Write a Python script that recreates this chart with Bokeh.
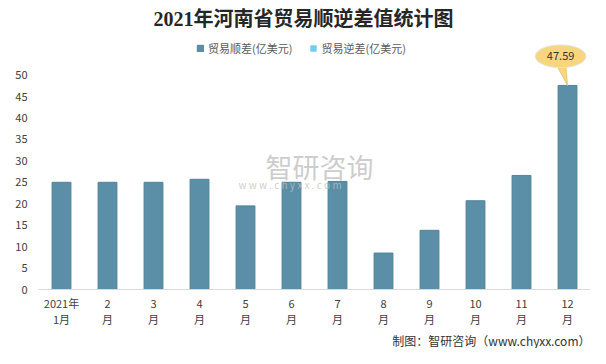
from bokeh.plotting import figure
from bokeh.models import (Range1d, FixedTicker, Label, Legend, LegendItem,
                          ColumnDataSource, Title)
from bokeh.embed import file_html
from bokeh.resources import INLINE

# ---- data ----
months = [1, 2, 3, 4, 5, 6, 7, 8, 9, 10, 11, 12]
month_labels = ["2021年\n1月", "2\n月", "3\n月", "4\n月", "5\n月", "6\n月",
                "7\n月", "8\n月", "9\n月", "10\n月", "11\n月", "12\n月"]
surplus = [25.0, 25.0, 25.0, 25.7, 19.5, 25.0, 25.2, 8.5, 13.8, 20.7, 26.6, 47.59]
deficit = [0, 0, 0, 0, 0, 0, 0, 0, 0, 0, 0, 0]  # no deficit in any month
y_ticks = [0, 5, 10, 15, 20, 25, 30, 35, 40, 45, 50]

title_text = "2021年河南省贸易顺逆差值统计图"
series_names = ["贸易顺差(亿美元)", "贸易逆差(亿美元)"]
source_text = "制图：智研咨询（www.chyxx.com）"

CJK = "Noto Sans CJK SC"
bar_color = "#5B8FA7"
deficit_color = "#6FCDF3"

p = figure(width=590, height=348, output_backend="svg", toolbar_location=None,
           title=None,
           x_range=Range1d(0.5, 12.5), y_range=Range1d(0, 67.4),
           min_border_left=38, min_border_right=0,
           min_border_top=0, min_border_bottom=0)
p.background_fill_color = "white"
p.border_fill_color = "white"
p.outline_line_color = None
p.grid.grid_line_color = None

src = ColumnDataSource(dict(x=months, top=surplus))
r1 = p.vbar(x="x", top="top", width=0.41, source=src, fill_color=bar_color,
            line_color="#50839A", line_width=1)
src2 = ColumnDataSource(dict(x=months, top=deficit))
r2 = p.vbar(x="x", top="top", width=0.41, source=src2, fill_color=deficit_color,
            line_color=None)

# axes
p.yaxis.ticker = FixedTicker(ticks=y_ticks)
p.yaxis.axis_line_color = None
p.yaxis.major_tick_line_color = None
p.yaxis.minor_tick_line_color = None
p.yaxis.major_tick_out = 0
p.yaxis.major_label_standoff = 11
p.yaxis.major_label_text_font = CJK
p.yaxis.major_label_text_font_size = "11px"
p.yaxis.major_label_text_color = "#404040"

p.xaxis.ticker = FixedTicker(ticks=months)
p.xaxis.major_label_overrides = {m: lab for m, lab in zip(months, month_labels)}
p.xaxis.axis_line_color = "#D9D9D9"
p.xaxis.major_tick_line_color = None
p.xaxis.minor_tick_line_color = None
p.xaxis.major_tick_out = 0
p.xaxis.major_label_standoff = 5
p.xaxis.major_label_text_font = CJK
p.xaxis.major_label_text_font_size = "11px"
p.xaxis.major_label_text_color = "#404040"
p.xaxis.major_label_text_line_height = 1.0

# source note (below the axis)
p.add_layout(Title(text=source_text, align="right", standoff=0, offset=0,
                   text_font_size="12px", text_font=CJK,
                   text_font_style="normal", text_color="#333333"), "below")

# title
p.add_layout(Label(x=6.26, y=63.0, text=title_text, text_align="center",
                   text_baseline="middle", text_font_size="20px",
                   text_font_style="bold", text_color="#262626",
                   text_font="Liberation Serif, Noto Sans CJK SC"))

# legend
legend = Legend(items=[LegendItem(label=series_names[0], renderers=[r1]),
                       LegendItem(label=series_names[1], renderers=[r2])],
                orientation="horizontal", location=(158, 233),
                glyph_width=8, glyph_height=8, label_standoff=4, spacing=17,
                padding=0, margin=0, label_height=16,
                label_text_font=CJK, label_text_font_size="11px",
                label_text_color="#595959",
                background_fill_alpha=0, border_line_color=None)
p.add_layout(legend, "center")

# watermark
p.add_layout(Label(x=6.61, y=28.6, text="智研咨询", text_align="center",
                   text_baseline="middle", text_font_size="27px",
                   text_font=CJK, text_color="#BFBFBF", text_alpha=0.8))
p.add_layout(Label(x=6.26, y=24.4, text="w  w  w  .  c  h  y  x  x  .  c  o  m",
                   text_align="center", text_baseline="middle",
                   text_font_size="10px", text_font=CJK,
                   text_color="#BFBFBF", text_alpha=0.8))

# callout for the max value
v = surplus[-1]
xm = months[-1]
p.patch(x=[xm - 0.24, xm - 0.04, xm], y=[v + 4.8, v + 4.8, v],
        fill_color="#F8D57E", line_color="#E8C870")
p.ellipse(x=[xm - 0.15], y=[v + 6.8], width=1.1, height=5.3,
          fill_color="#F8D57E", line_color="#E3E3E3", line_width=1)
p.add_layout(Label(x=xm - 0.15, y=v + 6.8, text=f"{v:.2f}", text_align="center",
                   text_baseline="middle", text_font_size="11px",
                   text_font=CJK, text_color="#333333"))

open("out.html", "w").write(file_html(p, INLINE))
